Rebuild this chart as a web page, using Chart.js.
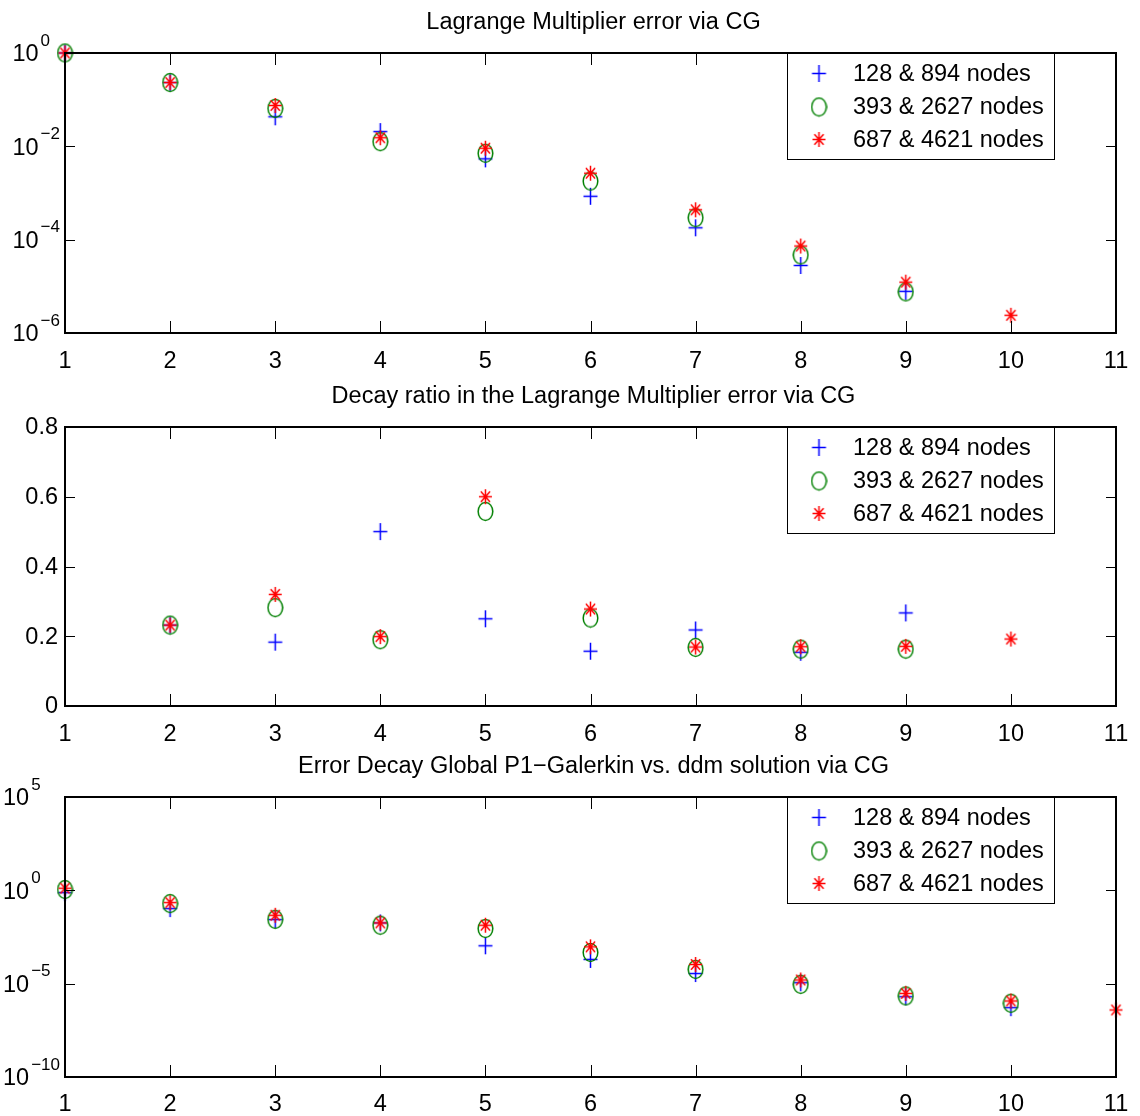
<!DOCTYPE html>
<html>
<head>
<meta charset="utf-8">
<script src="https://cdn.jsdelivr.net/npm/chart.js@4.4.0/dist/chart.umd.min.js"></script>
<style>
  body { margin: 0; background: #fff; }
  .panel { position: absolute; left: 0; width: 1140px; height: 372px; }
</style>
</head>
<body>
<div class="panel" style="top:0px"><canvas id="lmError"></canvas></div>
<div class="panel" style="top:372px"><canvas id="decayRatio"></canvas></div>
<div class="panel" style="top:744px"><canvas id="galerkinError"></canvas></div>
<script>
const steps = [1, 2, 3, 4, 5, 6, 7, 8, 9, 10, 11];
const xTicks = [1, 2, 3, 4, 5, 6, 7, 8, 9, 10, 11];
const seriesNames = ["128 & 894 nodes", "393 & 2627 nodes", "687 & 4621 nodes"];

// Lagrange multiplier error via CG
const lmError128 = [1, 0.233, 0.043, 0.0207, 0.0054, 0.00085, 0.00018, 0.000028, 0.0000078, null, null];
const lmError393 = [1, 0.233, 0.065, 0.0126, 0.0071, 0.0018, 0.000295, 0.000047, 0.0000076, null, null];
const lmError687 = [1, 0.233, 0.075, 0.0153, 0.0091, 0.00265, 0.000437, 0.000073, 0.0000123, 0.0000024, null];
const lmTicks = [1e-6, 1e-4, 1e-2, 1];

// decay ratio
const ratio128 = [null, 0.232, 0.183, 0.5, 0.25, 0.157, 0.218, 0.154, 0.267, null, null];
const ratio393 = [null, 0.232, 0.282, 0.19, 0.558, 0.252, 0.168, 0.163, 0.163, null, null];
const ratio687 = [null, 0.232, 0.32, 0.199, 0.6, 0.278, 0.169, 0.17, 0.171, 0.192, null];
const ratioTicks = [0, 0.2, 0.4, 0.6, 0.8];

// global P1-Galerkin vs ddm error
const galError128 = [0.75, 0.105, 0.027, 0.018, 0.00107, 0.0002, 0.000035, 0.0000112, 0.000002, 0.00000052, null];
const galError393 = [1.1, 0.195, 0.028, 0.0135, 0.009, 0.00047, 0.000058, 0.0000092, 0.0000022, 0.00000089, null];
const galError687 = [1.3, 0.22, 0.046, 0.018, 0.0135, 0.00094, 0.000107, 0.0000158, 0.000003, 0.00000118, 0.00000039];
const galTicks = [1e-10, 1e-5, 1, 1e5];

const FONT = "'Liberation Sans', Arial, Helvetica, sans-serif";
const colors = ["#0000ff", "#008000", "#ff0000"];

function makeMarker(kind, color) {
  const c = document.createElement("canvas");
  c.width = 17; c.height = 21;
  const g = c.getContext("2d");
  const cx = 8.5, cy = 10.5;
  g.strokeStyle = color;
  g.lineWidth = 1.5;
  g.beginPath();
  if (kind === "plus") {
    g.moveTo(cx - 7, cy); g.lineTo(cx + 7, cy);
    g.moveTo(cx, cy - 8.5); g.lineTo(cx, cy + 8.5);
  } else if (kind === "circle") {
    g.ellipse(cx, cy, 7.3, 9, 0, 0, Math.PI * 2);
  } else {
    g.moveTo(cx - 6.5, cy); g.lineTo(cx + 6.5, cy);
    g.moveTo(cx, cy - 7.5); g.lineTo(cx, cy + 7.5);
    g.moveTo(cx - 4.6, cy - 5.3); g.lineTo(cx + 4.6, cy + 5.3);
    g.moveTo(cx + 4.6, cy - 5.3); g.lineTo(cx - 4.6, cy + 5.3);
  }
  g.stroke();
  return c;
}
const markers = [makeMarker("plus", colors[0]), makeMarker("circle", colors[1]), makeMarker("star", colors[2])];

function toPoints(arr) {
  return steps.map((x, i) => ({ x: x, y: arr[i] })).filter(p => p.y !== null);
}

function supLabel(v) {
  const e = Math.round(Math.log10(v));
  return e < 0 ? "\u2212" + Math.abs(e) : String(e);
}

// draws the matlab style box, inward ticks, tick labels, title and legend
const matlabAxes = {
  id: "matlabAxes",
  afterDraw(chart, args, opts) {
    const ctx = chart.ctx;
    const a = chart.chartArea;
    const xs = chart.scales.x, ys = chart.scales.y;
    ctx.save();
    ctx.strokeStyle = "#000";
    ctx.lineWidth = 1;
    ctx.beginPath();
    xTicks.forEach(v => {
      const px = Math.round(xs.getPixelForValue(v)) + 0.5;
      ctx.moveTo(px, a.top); ctx.lineTo(px, a.top + 12);
      ctx.moveTo(px, a.bottom); ctx.lineTo(px, a.bottom - 12);
    });
    opts.yTicks.forEach(v => {
      const py = Math.round(ys.getPixelForValue(v)) + 0.5;
      ctx.moveTo(a.left, py); ctx.lineTo(a.left + 10, py);
      ctx.moveTo(a.right, py); ctx.lineTo(a.right - 10, py);
    });
    ctx.stroke();

    ctx.lineWidth = 2;
    ctx.strokeRect(a.left, a.top, a.right - a.left, a.bottom - a.top);

    ctx.fillStyle = "#000";
    ctx.font = "23.5px " + FONT;
    ctx.textAlign = "center";
    ctx.textBaseline = "middle";
    xTicks.forEach(v => {
      ctx.fillText(String(v), xs.getPixelForValue(v), a.bottom + opts.xLabelGap);
    });

    if (opts.log) {
      ctx.font = "17px " + FONT;
      const expW = Math.max(...opts.yTicks.map(v => ctx.measureText(supLabel(v)).width));
      const baseRight = a.left - 5 - expW - 2;
      opts.yTicks.forEach(v => {
        const py = ys.getPixelForValue(v);
        ctx.font = "23.5px " + FONT;
        ctx.textAlign = "right";
        ctx.textBaseline = "middle";
        ctx.fillText("10", baseRight, py + 2);
        ctx.font = "17px " + FONT;
        ctx.textAlign = "left";
        ctx.fillText(supLabel(v), baseRight + 2, py - 12);
      });
    } else {
      ctx.textAlign = "right";
      opts.yTicks.forEach(v => {
        ctx.fillText(v === 0 ? "0" : v.toFixed(1), a.left - 7, ys.getPixelForValue(v) + 1);
      });
    }

    ctx.font = "23.5px " + FONT;
    ctx.textAlign = "center";
    ctx.textBaseline = "alphabetic";
    ctx.fillText(opts.title, (a.left + a.right) / 2 + 3, a.top - 24);

    // legend
    const lx = a.right - 329, ly = a.top, lw = 267, lh = 106;
    ctx.fillStyle = "#fff";
    ctx.fillRect(lx, ly, lw, lh);
    ctx.lineWidth = 1;
    ctx.strokeStyle = "#000";
    ctx.strokeRect(lx + 0.5, ly + 0.5, lw, lh);
    ctx.fillStyle = "#000";
    ctx.textAlign = "left";
    ctx.textBaseline = "middle";
    [20.5, 54, 86.5].forEach((dy, i) => {
      const img = markers[i];
      ctx.drawImage(img, lx + 32 - img.width / 2, ly + dy - img.height / 2);
      ctx.fillText(chart.data.datasets[i].label, lx + 66, ly + dy + 1);
    });
    ctx.restore();
  }
};

function makeChart(id, title, series, yOpts, yTicks, isLog, topPad, xHeight, xLabelGap) {
  const yScale = Object.assign({
    afterBuildTicks: s => { s.ticks = yTicks.map(v => ({ value: v })); },
    afterFit: s => { s.width = 65; },
    grid: { display: false },
    border: { display: false },
    ticks: { display: false }
  }, yOpts);
  return new Chart(document.getElementById(id), {
    type: "scatter",
    data: {
      datasets: series.map((arr, i) => ({
        label: seriesNames[i],
        data: toPoints(arr),
        pointStyle: markers[i],
        pointRadius: 8,
        clip: false,
        order: 3 - i
      }))
    },
    options: {
      animation: false,
      responsive: true,
      maintainAspectRatio: false,
      layout: { padding: { top: topPad, right: 24, left: 0, bottom: 0 } },
      scales: {
        x: {
          type: "linear",
          min: 1,
          max: 11,
          afterBuildTicks: s => { s.ticks = xTicks.map(v => ({ value: v })); },
          afterFit: s => { s.height = xHeight; },
          grid: { display: false },
          border: { display: false },
          ticks: { display: false }
        },
        y: yScale
      },
      plugins: {
        legend: { display: false },
        tooltip: { enabled: false },
        matlabAxes: { title: title, yTicks: yTicks, log: isLog, xLabelGap: xLabelGap }
      }
    },
    plugins: [matlabAxes]
  });
}

makeChart("lmError", "Lagrange Multiplier error via CG",
  [lmError128, lmError393, lmError687],
  { type: "logarithmic", min: 1e-6, max: 1 },
  lmTicks, true, 53, 39, 29);

makeChart("decayRatio", "Decay ratio in the Lagrange Multiplier error via CG",
  [ratio128, ratio393, ratio687],
  { type: "linear", min: 0, max: 0.8 },
  ratioTicks, false, 55, 38, 29);

makeChart("galerkinError", "Error Decay Global P1\u2212Galerkin vs. ddm solution via CG",
  [galError128, galError393, galError687],
  { type: "logarithmic", min: 1e-10, max: 1e5 },
  galTicks, true, 53, 39, 28);
</script>
</body>
</html>
